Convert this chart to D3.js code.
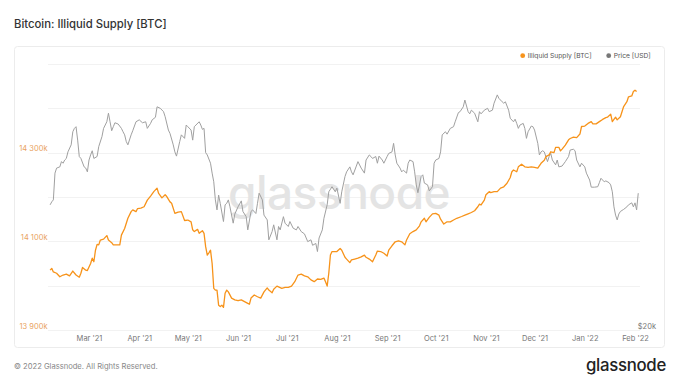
<!DOCTYPE html>
<html><head><meta charset="utf-8">
<script src="https://cdn.jsdelivr.net/npm/d3@7"></script>
<style>
html,body{margin:0;padding:0;background:#fff;}
svg{display:block;font-family:Inter,"Noto Sans",sans-serif;}
</style></head>
<body>
<svg id="c" width="680" height="383"></svg>
<script>
// ---- data ----
const TITLE = "Bitcoin: Illiquid Supply [BTC]";
const START_DATE = "2021-02-05";
const seriesNames = ["Illiquid Supply [BTC]", "Price [USD]"];
const supplyTicks = [13900, 14100, 14300];           // labelled (k BTC)
const supplyGrid = [13900, 14000, 14100, 14200, 14300, 14400, 14500];
const priceTicks = [20];                              // $k
const monthTicks = ["2021-03-01","2021-04-01","2021-05-01","2021-06-01","2021-07-01","2021-08-01","2021-09-01","2021-10-01","2021-11-01","2021-12-01","2022-01-01","2022-02-01"];

// Illiquid supply (thousand BTC), day offset from START_DATE
const supplyDay = [0,1,2,4,6,8,10,12,14,16,18,19,20,22,23,25,26,27,28,29,30,31,33,35,36,38,39,41,43,44,46,48,50,51,53,54,56,58,60,62,64,66,67,69,71,72,74,75,77,79,81,83,85,87,88,89,91,92,94,95,96,97,98,99,100,101,102,103,104,105,106,107,108,109,110,112,114,116,118,120,122,123,124,126,128,130,132,134,135,137,138,140,143,145,147,149,151,153,155,157,159,161,163,165,167,169,170,171,172,173,174,177,179,180,182,183,185,186,188,190,192,194,195,197,199,201,202,204,206,208,209,211,213,215,217,219,220,222,224,226,228,229,231,232,234,236,238,240,241,243,245,247,249,251,254,256,258,260,262,264,265,266,268,269,271,272,274,276,278,280,282,284,285,286,288,289,291,293,295,297,299,301,303,305,306,308,309,311,312,314,315,316,318,320,321,323,325,327,328,330,332,334,335,337,339,341,343,344,346,347,349,350,352,354,356,357,359,360,361,362];
const supplyK = [14035,14039,14031,14028,14020,14024,14026,14022,14033,14024,14019,14028,14041,14035,14034,14050,14062,14054,14080,14093,14092,14103,14105,14113,14103,14097,14092,14092,14092,14114,14129,14152,14167,14171,14167,14174,14175,14178,14193,14202,14212,14220,14208,14198,14205,14201,14189,14186,14163,14166,14167,14147,14148,14144,14126,14122,14127,14118,14124,14118,14088,14069,14074,14080,14050,13994,13990,13990,13956,13953,13956,13951,13983,13990,13986,13972,13968,13966,13968,13964,13960,13958,13972,13979,13975,13972,13986,13995,13990,13984,13992,13999,13994,13996,13996,13999,14009,14024,14026,14022,14020,14013,14009,14015,14014,14017,14009,13999,14028,14069,14077,14077,14084,14080,14064,14060,14052,14058,14060,14062,14065,14069,14064,14060,14054,14069,14078,14077,14073,14067,14080,14090,14099,14101,14099,14092,14103,14117,14122,14126,14135,14144,14152,14144,14154,14162,14163,14159,14150,14139,14144,14144,14148,14152,14156,14159,14162,14165,14169,14178,14184,14182,14193,14205,14212,14210,14212,14212,14220,14223,14231,14244,14257,14261,14257,14268,14274,14268,14267,14268,14267,14265,14276,14283,14291,14295,14302,14300,14312,14312,14304,14308,14317,14329,14332,14335,14334,14342,14359,14360,14366,14370,14365,14365,14370,14375,14379,14380,14387,14370,14380,14374,14381,14404,14415,14426,14428,14438,14441,14438];

// BTC price (thousand USD), day offset from START_DATE
const priceDay = [0,1,2,3,4,6,7,8,9,10,11,13,14,15,16,17,18,19,21,22,23,24,25,26,27,29,30,32,33,35,36,37,38,39,40,42,44,45,46,47,48,50,51,53,55,57,59,60,62,63,65,66,68,70,71,73,74,76,77,78,80,81,83,84,85,87,88,89,90,92,93,94,95,96,97,99,100,101,102,103,104,105,107,108,109,110,111,113,114,116,118,119,121,122,124,125,127,128,129,131,132,134,135,137,138,140,141,142,144,145,147,148,150,152,153,155,157,159,161,162,164,165,166,168,169,171,172,174,176,177,179,180,182,183,185,186,187,189,190,192,194,195,197,198,199,201,202,203,205,206,208,209,211,212,213,214,216,217,218,220,221,222,224,225,226,227,229,230,231,233,234,236,237,238,240,241,242,244,245,247,249,250,252,253,255,256,258,259,260,262,264,265,266,268,270,271,273,274,276,277,279,280,281,283,284,286,287,288,289,290,292,293,294,295,297,298,299,301,302,303,304,305,307,308,309,310,312,313,314,316,318,320,321,323,324,325,327,328,330,331,333,334,336,338,339,340,342,343,345,346,347,348,349,350,351,352,354,356,357,359,360,361,362,363];
const priceK = [38.4,39.0,39.4,45.3,46.5,46.8,48.1,47.7,48.5,48.9,50.6,52.5,56.2,57.2,57.7,53.8,49.4,48.9,46.8,46.5,45.6,48.5,49.8,50.9,48.9,49.4,52.0,54.8,57.2,59.2,61.9,59.2,56.5,57.7,58.9,58.5,57.2,56.2,55.3,53.4,52.5,55.3,56.5,59.2,59.8,58.9,59.2,57.2,58.7,59.8,60.6,64.0,63.5,62.4,60.8,56.7,55.7,52.5,50.6,49.5,53.4,55.3,54.3,58.2,57.7,56.7,53.8,57.7,58.2,59.2,58.2,56.9,57.2,50.4,49.8,47.7,45.3,43.3,39.4,37.4,40.4,38.7,35.2,38.4,38.7,39.4,38.0,34.9,36.6,38.0,39.2,37.1,36.1,33.7,37.1,37.4,36.7,38.7,40.8,39.4,36.4,35.5,32.0,33.4,34.6,32.0,34.3,33.7,36.1,34.9,34.3,35.2,34.0,33.7,34.3,33.4,33.0,31.7,32.0,31.1,31.4,30.1,32.3,33.7,35.8,38.4,41.1,42.2,41.1,41.9,38.7,41.1,44.5,45.6,46.8,45.6,44.9,47.0,48.1,46.5,45.3,48.5,49.8,49.4,48.9,49.4,47.7,49.5,48.5,47.7,49.4,50.2,50.6,52.9,49.8,47.7,46.5,45.6,46.0,45.3,47.7,48.5,48.1,45.6,42.6,40.9,44.5,44.9,43.0,42.6,41.3,42.2,47.7,48.5,48.9,50.6,55.3,56.2,55.5,57.2,57.7,59.2,62.1,62.4,64.0,66.3,62.4,61.7,62.9,61.9,59.2,62.4,61.7,62.9,63.5,62.4,62.9,65.2,68.1,66.9,65.7,65.2,65.7,62.9,60.3,59.2,60.0,58.7,57.2,58.2,58.7,57.2,54.3,56.2,57.9,57.7,56.7,52.9,49.8,50.6,50.9,50.6,48.1,49.4,50.2,48.5,47.3,48.5,46.8,47.0,48.1,49.4,51.1,51.3,50.9,48.5,46.8,47.7,46.8,45.3,43.7,42.1,42.1,42.2,43.1,44.1,43.3,43.5,43.1,42.6,41.1,38.0,36.4,35.5,36.6,37.1,37.5,38.0,38.4,38.8,38.0,38.8,37.4,40.8];

// ---- styles / layout ----
const ORANGE = "#f7931a", GREY = "#a0a0a0";
const svg = d3.select("#c");
const start = new Date(START_DATE + "T00:00:00Z");
const toDate = d => d3.utcDay.offset(start, d);

const plot = {left: 48, right: 640, top: 64, bottom: 330};
const x = d3.scaleUtc().domain([new Date("2021-03-01T00:00:00Z"), new Date("2022-02-01T00:00:00Z")]).range([89, 635]);
const yS = d3.scaleLinear().domain([13900, 14500]).range([plot.bottom, plot.top]);
const yP = d3.scaleLog().domain([20, 80]).range([plot.bottom, plot.top]);

// title
svg.append("text").attr("x", 14).attr("y", 28).attr("font-size", 11.3).attr("font-weight", 500)
  .attr("fill", "#333").text(TITLE);

// card
svg.append("rect").attr("x", 14.5).attr("y", 46.5).attr("width", 650).attr("height", 301)
  .attr("rx", 3).attr("fill", "#fff").attr("stroke", "#ececec");

// gridlines
svg.append("g").selectAll("line").data(supplyGrid).join("line")
  .attr("x1", plot.left).attr("x2", plot.right)
  .attr("y1", d => Math.round(yS(d)) + 0.5).attr("y2", d => Math.round(yS(d)) + 0.5)
  .attr("stroke", "#f2f2f2");

// watermark
svg.append("text").attr("x", 339).attr("y", 209).attr("text-anchor", "middle")
  .attr("font-size", 46).attr("font-weight", 500).attr("letter-spacing", -0.5)
  .attr("fill", "#e4e4e4").text("glassnode");

// left axis labels
const fmtK = v => d3.format(",")(v).replace(",", " ") + "k";
svg.append("g").selectAll("text").data(supplyTicks).join("text")
  .attr("x", 47.5).attr("y", d => yS(d) - 1.5).attr("text-anchor", "end")
  .attr("font-size", 7.5).attr("fill", "#e9a35f").text(fmtK);

// right axis labels
svg.append("g").selectAll("text").data(priceTicks).join("text")
  .attr("x", 656).attr("y", d => yP(d) - 1.5).attr("text-anchor", "end")
  .attr("font-size", 7.5).attr("fill", "#777").text(d => "$" + d + "k");

// x axis
const xAxis = d3.axisBottom(x).tickValues(monthTicks.map(s => new Date(s + "T00:00:00Z")))
  .tickFormat(d3.utcFormat("%b '%y")).tickSize(0).tickPadding(6);
const gx = svg.append("g").attr("transform", `translate(0,${plot.bottom})`).call(xAxis);
gx.select(".domain").remove();
gx.selectAll("text").attr("font-size", 7.5).attr("fill", "#777").attr("font-family", "Inter,'Noto Sans',sans-serif");

// lines
const priceData = priceDay.map((d, i) => [toDate(d), priceK[i]]);
const supplyData = supplyDay.map((d, i) => [toDate(d), supplyK[i]]);
svg.append("path").datum(priceData)
  .attr("d", d3.line().x(d => x(d[0])).y(d => yP(d[1])))
  .attr("fill", "none").attr("stroke", GREY).attr("stroke-width", 1).attr("stroke-linejoin", "round");
svg.append("path").datum(supplyData)
  .attr("d", d3.line().x(d => x(d[0])).y(d => yS(d[1])))
  .attr("fill", "none").attr("stroke", ORANGE).attr("stroke-width", 1.3).attr("stroke-linejoin", "round");

// legend
const legend = [{name: seriesNames[0], color: ORANGE, x: 522.7}, {name: seriesNames[1], color: "#777", x: 608.7}];
const lg = svg.append("g").selectAll("g").data(legend).join("g").attr("transform", d => `translate(${d.x},55.7)`);
lg.append("circle").attr("r", 2.4).attr("fill", d => d.color);
lg.append("text").attr("x", 5).attr("y", 2.4).attr("font-size", 6.7).attr("fill", "#555").text(d => d.name);

// footer
svg.append("text").attr("x", 14).attr("y", 369).attr("font-size", 7.6).attr("fill", "#888")
  .text("© 2022 Glassnode. All Rights Reserved.");
svg.append("text").attr("x", 666).attr("y", 371).attr("text-anchor", "end").attr("font-size", 16.8)
  .attr("font-weight", 500).attr("letter-spacing", -0.3).attr("fill", "#222").text("glassnode");
</script>
</body></html>
